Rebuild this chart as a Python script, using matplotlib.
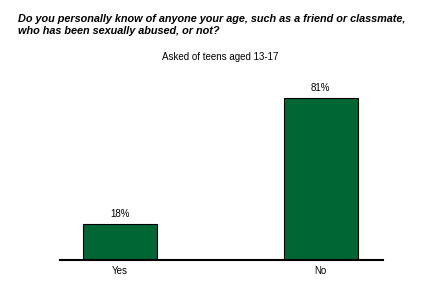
"""Bar chart: teens who know someone who has been sexually abused."""

import matplotlib as mpl
from matplotlib import pyplot as plt

mpl.use("Agg")

categories = ["Yes", "No"]
values = [18, 81]
value_labels = ["18%", "81%"]

title = ("Do you personally know of anyone your age, such as a friend or classmate,\n"
         "who has been sexually abused, or not?")
subtitle = "Asked of teens aged 13-17"

plt.rcParams["font.family"] = ["Liberation Sans", "DejaVu Sans"]

fig = plt.figure(figsize=(4.4, 2.82), dpi=100)
ax = fig.add_axes([60 / 440, 1 - 260 / 282, 323 / 440, 200 / 282])

positions = range(len(categories))
bars = ax.bar(positions, values, width=0.368, color="#006633",
              edgecolor="black", linewidth=0.8)
for bar, label in zip(bars, value_labels):
    ax.text(bar.get_x() + bar.get_width() / 2, bar.get_height() + 2.5, label,
            ha="center", va="bottom", fontsize=7)

ax.set_xlim(-0.3, 1.31)
ax.set_ylim(0, 100)
ax.set_xticks(list(positions))
ax.set_xticklabels(categories, fontsize=7)
ax.tick_params(axis="x", length=0, pad=4)
ax.set_yticks([])
for side in ("top", "right", "left"):
    ax.spines[side].set_visible(False)
ax.spines["bottom"].set_linewidth(1.5)

fig.text(18 / 440, 1 - 14 / 282, title, fontsize=7.8, fontweight="bold",
         fontstyle="italic", ha="left", va="top", linespacing=1.2)
fig.text(220 / 440, 1 - 57 / 282, subtitle, fontsize=7, ha="center", va="center")

fig.savefig("out.png", dpi=100)
